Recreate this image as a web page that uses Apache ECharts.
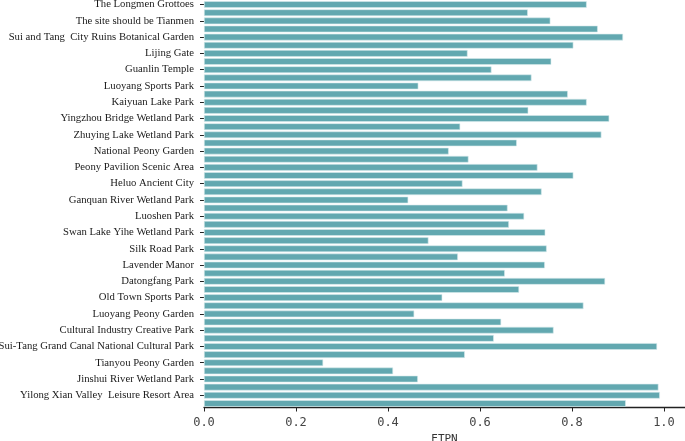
<!DOCTYPE html>
<html><head><meta charset="utf-8">
<script src="https://cdn.jsdelivr.net/npm/echarts@6/dist/echarts.min.js"></script>
<style>html,body{margin:0;padding:0;background:#fff}#c{width:685px;height:441px}</style>
</head><body><div id="c"></div>
<script>
const labeledNames = [
  "The Longmen Grottoes","The site should be Tianmen","Sui and Tang  City Ruins Botanical Garden",
  "Lijing Gate","Guanlin Temple","Luoyang Sports Park","Kaiyuan Lake Park",
  "Yingzhou Bridge Wetland Park","Zhuying Lake Wetland Park","National Peony Garden",
  "Peony Pavilion Scenic Area","Heluo Ancient City","Ganquan River Wetland Park",
  "Luoshen Park","Swan Lake Yihe Wetland Park","Silk Road Park","Lavender Manor",
  "Datongfang Park","Old Town Sports Park","Luoyang Peony Garden",
  "Cultural Industry Creative Park","Sui-Tang Grand Canal National Cultural Park",
  "Tianyou Peony Garden","Jinshui River Wetland Park","Yilong Xian Valley  Leisure Resort Area"
];
const values = [
  0.832,0.704,0.753,0.856,0.911,0.803,0.573,0.755,0.625,0.712,
  0.466,0.791,0.832,0.705,0.881,0.557,0.864,0.680,0.532,0.575,
  0.725,0.803,0.562,0.734,0.444,0.660,0.696,0.663,0.742,0.488,
  0.745,0.552,0.741,0.654,0.872,0.685,0.518,0.825,0.457,0.646,
  0.760,0.630,0.985,0.567,0.259,0.411,0.465,0.988,0.991,0.917
];
const xTicks = [0, 0.2, 0.4, 0.6, 0.8, 1.0];
const categories = values.map((v, i) => (i % 2 === 0 ? labeledNames[i / 2] : ''));

const chart = echarts.init(document.getElementById('c'));
chart.setOption({
  animation: false,
  grid: { left: 204, right: 0, top: 0.5, bottom: 33.5, containLabel: false, outerBoundsMode: 'none' },
  xAxis: {
    type: 'value', min: 0, max: 1.0457,
    name: 'ETPN', nameLocation: 'middle', nameGap: 25,
    nameTextStyle: { fontFamily: 'DejaVu Sans Mono', fontSize: 11, color: '#333' },
    axisLine: { show: true, lineStyle: { color: '#222', width: 1.3 } },
    axisTick: { show: true, length: 4, customValues: xTicks, lineStyle: { color: '#222' } },
    axisLabel: { customValues: xTicks, formatter: v => v.toFixed(1), margin: 9,
      fontFamily: 'DejaVu Sans Mono', fontSize: 12, color: '#444' },
    splitLine: { show: false }
  },
  yAxis: {
    type: 'category', inverse: true, data: categories,
    axisLine: { show: false },
    axisTick: { show: true, alignWithLabel: true, interval: 1, length: 4, lineStyle: { color: '#222' } },
    axisLabel: { interval: 1, margin: 10, fontFamily: 'Liberation Serif', fontSize: 10.7, color: '#1a1a1a' }
  },
  series: [{
    type: 'bar', data: values, barCategoryGap: '18%',
    itemStyle: { color: '#62a8b0', borderColor: '#d6ebed', borderWidth: 0.6 }
  }]
});
</script></body></html>
